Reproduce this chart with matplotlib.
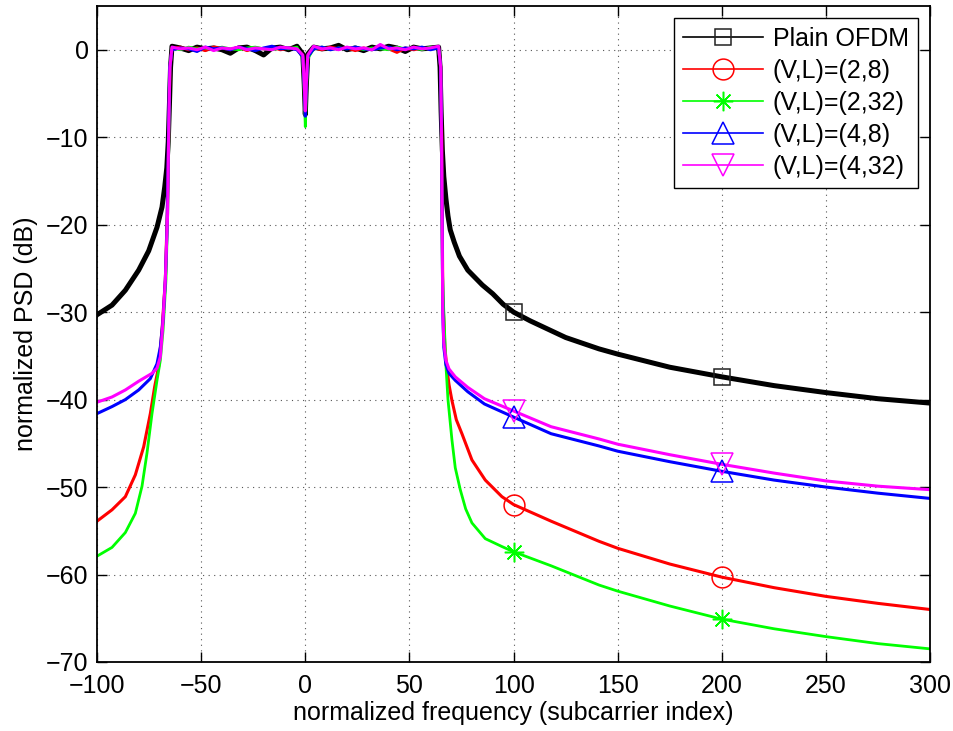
import numpy as np
import matplotlib
matplotlib.use("Agg")
import matplotlib.pyplot as plt

plt.rcParams['font.family'] = ['Liberation Sans', 'DejaVu Sans']

# ---------------- data ----------------
series_labels = ["Plain OFDM", "(V,L)=(2,8)", "(V,L)=(2,32)", "(V,L)=(4,8)", "(V,L)=(4,32)"]

# passband sample positions (shared), with the DC notch
pass_x = [-64, -60, -56, -52, -48, -44, -40, -36, -32, -28, -24, -20, -16, -12, -8, -4,
          -1.2, -0.5, 0, 0.5, 1.2,
          4, 8, 12, 16, 20, 24, 28, 32, 36, 40, 44, 48, 52, 56, 60, 64]

# ---- Plain OFDM ----
ofdm_left_x = [-100, -92.8, -86.4, -80, -75.2, -71.2, -68.8, -67.5, -66.5, -65.8, -65.2, -64.7]
ofdm_left_y = [-30.3, -29.2, -27.5, -25.2, -23.0, -20.3, -18.0, -15.7, -13.5, -10.5, -6.0, -2.0]
ofdm_pass_y = [0.4, 0.2, -0.1, 0.3, 0.1, 0.2, 0.0, -0.4, 0.2, 0.3, -0.1, -0.6, 0.2, 0.3, 0.0, 0.4,
               -0.5, -4.0, -7.4, -4.0, -0.5,
               0.3, 0.1, 0.2, 0.5, 0.0, 0.2, -0.1, 0.3, 0.1, 0.4, 0.2, -0.2, 0.3, 0.1, 0.2, 0.3]
ofdm_right_x = [64.7, 65.2, 65.8, 66.5, 67.5, 68.5, 69.6, 71.5, 74, 78, 85, 90, 95, 100, 108, 125, 141, 150,
                175, 200, 225, 250, 275, 300]
ofdm_right_y = [-2.0, -7.0, -11.5, -14.5, -17.0, -19.0, -20.6, -22.0, -23.6, -25.2, -26.9, -27.9, -29.1, -30.0,
                -31.0, -32.9, -34.2, -34.8, -36.3, -37.4, -38.4, -39.2, -39.9, -40.4]

# ---- (V,L)=(2,8) ----
v28_left_x = [-100, -92.8, -86.4, -81.6, -77.6, -74.4, -72.3, -70.4, -68.8, -67.2, -66.2, -65.5, -65.0]
v28_left_y = [-53.9, -52.6, -51.1, -48.6, -45.4, -41.6, -38.5, -36.2, -32.1, -26.3, -18.0, -8.0, -2.0]
v28_pass_y = [0.1, 0.3, 0.0, 0.2, -0.1, 0.3, 0.2, 0.0, 0.3, -0.1, 0.2, 0.1, 0.3, 0.0, 0.2, 0.1,
              -0.8, -4.2, -7.6, -4.2, -0.8,
              0.2, 0.0, 0.3, 0.1, 0.2, -0.1, 0.2, 0.0, 0.3, 0.1, -0.3, 0.2, 0.0, 0.2, 0.1, 0.2]
v28_right_x = [65.0, 65.5, 66.0, 67.0, 68.0, 69.0, 70.4, 72.5, 75.2, 80, 86.4, 94.4, 100, 118, 141, 150,
               175, 200, 225, 250, 275, 300]
v28_right_y = [-2.0, -10.0, -28.0, -34.0, -36.5, -38.3, -40.1, -42.3, -43.9, -46.9, -49.2, -51.1, -52.0,
               -53.9, -56.2, -57.0, -58.8, -60.3, -61.5, -62.5, -63.3, -64.0]

# ---- (V,L)=(2,32) ----
v232_left_x = [-100, -92.8, -86.4, -81.6, -78.4, -76, -73.6, -71.2, -69.6, -68.3, -66.9, -66.0, -65.4, -65.0]
v232_left_y = [-57.9, -56.9, -55.2, -53.0, -49.9, -46.1, -41.6, -37.8, -35.5, -32.1, -26.3, -18.0, -8.0, -2.0]
v232_pass_y = [0.2, 0.0, 0.3, 0.1, 0.2, 0.0, 0.3, 0.1, 0.0, 0.2, 0.3, 0.1, 0.0, 0.2, 0.1, 0.3,
               -1.0, -4.8, -8.8, -4.8, -1.0,
               0.1, 0.3, 0.0, 0.2, 0.1, 0.3, 0.0, 0.2, 0.1, 0.0, 0.3, 0.1, 0.2, 0.0, 0.3, 0.1]
v232_right_x = [65.0, 65.4, 65.8, 66.5, 67.5, 68.5, 70.4, 72, 74.4, 77, 80, 86.4, 94.4, 100, 118, 141, 150,
                175, 200, 225, 250, 275, 300]
v232_right_y = [-2.0, -10.0, -25.0, -30.0, -36.0, -40.0, -44.6, -47.8, -50.3, -52.5, -54.1, -55.9, -56.8,
                -57.4, -59.0, -61.2, -61.9, -63.6, -65.1, -66.2, -67.1, -67.9, -68.5]

# ---- (V,L)=(4,8) ----
v48_left_x = [-100, -92.8, -86.4, -80, -74.4, -71.2, -69.6, -68.3, -67.2, -66.4, -65.7, -65.1]
v48_left_y = [-41.6, -40.8, -40.0, -38.9, -37.6, -35.9, -34.0, -30.9, -26.3, -20.6, -10.0, -2.0]
v48_pass_y = [0.0, 0.2, 0.1, -0.2, 0.3, 0.1, 0.2, 0.0, 0.3, 0.1, -0.1, 0.2, 0.4, 0.1, 0.2, 0.0,
              -0.8, -4.2, -7.6, -4.2, -0.8,
              0.1, 0.3, 0.0, 0.2, 0.1, 0.3, 0.1, 0.0, 0.2, 0.3, 0.0, 0.2, 0.1, 0.3, 0.0, 0.2]
v48_right_x = [65.0, 65.4, 65.7, 66.0, 66.5, 67.5, 69, 72, 78, 86, 100, 118, 141, 150, 175, 200, 225,
               250, 275, 300]
v48_right_y = [-2.0, -10.0, -20.0, -30.0, -34.0, -36.0, -37.0, -37.8, -39.1, -40.5, -42.0, -43.9, -45.3,
               -45.9, -47.1, -48.2, -49.2, -50.0, -50.7, -51.3]

# ---- (V,L)=(4,32) ----
v432_left_x = [-100, -92.8, -86.4, -80, -73.6, -71.2, -69.6, -68.5, -67.2, -66.1, -65.5, -65.0]
v432_left_y = [-40.3, -39.7, -38.9, -37.9, -37.0, -36.4, -35.1, -31.7, -26.3, -18.7, -8.0, -2.0]
v432_pass_y = [0.3, 0.1, 0.2, 0.0, 0.3, -0.1, 0.2, 0.1, 0.3, 0.0, 0.2, 0.1, 0.0, 0.3, 0.2, 0.1,
               -0.6, -3.8, -7.0, -3.8, -0.6,
               0.4, 0.1, 0.2, 0.0, 0.3, 0.1, 0.2, 0.0, 0.6, 0.1, 0.2, 0.0, 0.3, 0.1, 0.2, 0.4]
v432_right_x = [65.0, 65.4, 65.7, 66.0, 66.5, 67.5, 69, 72, 78, 86, 100, 118, 141, 150, 175, 200, 225,
                250, 275, 300]
v432_right_y = [-2.0, -10.0, -20.0, -30.0, -33.5, -35.5, -36.5, -37.4, -38.6, -39.9, -41.3, -43.1, -44.5,
                -45.1, -46.3, -47.4, -48.4, -49.3, -49.9, -50.3]

marker_freqs = [100, 200]

# ---------------- drawing ----------------
fig = plt.figure(figsize=(9.54, 7.31), dpi=100)
ax = fig.add_axes([0.1017, 0.0944, 0.8733, 0.8974])

styles = [
    dict(color='black', lw=3.6, marker='s', ms=12, mec='#222222'),
    dict(color='red', lw=2.2, marker='o', ms=15, mec='red'),
    dict(color='#00ff00', lw=2.0, marker=(8, 2, 0), ms=14, mec='#00ff00'),
    dict(color='blue', lw=2.2, marker='^', ms=16, mec='blue'),
    dict(color='magenta', lw=2.2, marker='v', ms=16, mec='magenta'),
]

data = [
    (ofdm_left_x, ofdm_left_y, ofdm_pass_y, ofdm_right_x, ofdm_right_y),
    (v28_left_x, v28_left_y, v28_pass_y, v28_right_x, v28_right_y),
    (v232_left_x, v232_left_y, v232_pass_y, v232_right_x, v232_right_y),
    (v48_left_x, v48_left_y, v48_pass_y, v48_right_x, v48_right_y),
    (v432_left_x, v432_left_y, v432_pass_y, v432_right_x, v432_right_y),
]

handles = []
for label, st, (lx, ly, py, rx, ry) in zip(series_labels, styles, data):
    xs = list(lx) + list(pass_x) + list(rx)
    ys = list(ly) + list(py) + list(ry)
    idx = [i for i, x in enumerate(xs) if x in marker_freqs]
    ax.plot(xs, ys, color=st['color'], lw=st['lw'], solid_joinstyle='round', zorder=2)
    ax.plot([xs[i] for i in idx], [ys[i] for i in idx], ls='none', marker=st['marker'],
            ms=st['ms'], mfc='none', mec=st['mec'], mew=1.1, zorder=3)
    h, = ax.plot([], [], color=st['color'], lw=1.2, marker=st['marker'], ms=st['ms'],
                 mfc='none', mec=st['mec'], mew=1.1, label=label)
    handles.append(h)

ax.set_xlim(-100, 300)
ax.set_ylim(-70, 5)
ax.set_xticks([-100, -50, 0, 50, 100, 150, 200, 250, 300])
ax.set_yticks([-70, -60, -50, -40, -30, -20, -10, 0])
ax.grid(True, linestyle=(0, (1, 4)), color='#555555', linewidth=0.8)
ax.tick_params(direction='in', length=7, width=1.0, labelsize=18, top=True, right=True)
ax.tick_params(axis='x', pad=9)
ax.tick_params(axis='y', pad=6)
for s in ax.spines.values():
    s.set_linewidth(1.3)
ax.set_xlabel('normalized frequency (subcarrier index)', fontsize=18, labelpad=2)
ax.set_ylabel('normalized PSD (dB)', fontsize=18, labelpad=6)

leg = ax.legend(handles=handles, loc='upper right', fontsize=18, numpoints=1, fancybox=False,
                framealpha=1, edgecolor='black', handlelength=3.2, handletextpad=0.4,
                borderpad=0.35, labelspacing=0.32, borderaxespad=0.5)
leg.get_frame().set_linewidth(1.0)

fig.savefig('out.png', dpi=100)
